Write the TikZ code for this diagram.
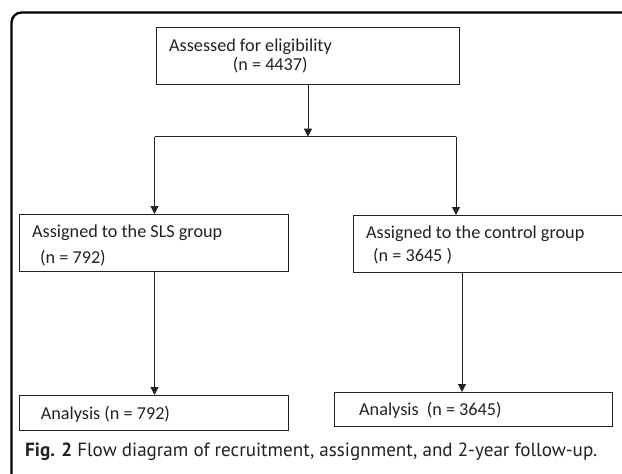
\documentclass[tikz,border=0pt]{standalone}
\usepackage{fontspec}
\setmainfont{Carlito}
\newfontfamily\capfont{PT Sans}
\usetikzlibrary{arrows.meta}
\definecolor{ink}{HTML}{222222}
\tikzset{
  box/.style={draw=ink, line width=1pt, inner sep=0pt, anchor=north west},
  txt/.style={inner sep=0pt, anchor=base west, text=ink, font=\fontsize{18.2}{21}\selectfont},
  conn/.style={draw=ink, line width=1pt},
  arr/.style={conn, -{Triangle[width=8pt,length=8pt]}, shorten >=0pt},
}
\begin{document}
\begin{tikzpicture}[x=1pt,y=-1pt]
\useasboundingbox (0,0) rectangle (622,474);
\clip (0,0) rectangle (622,474);
\fill[white] (0,0) rectangle (622,474);
% outer frame
\draw[line width=2.3pt, rounded corners=10pt] (11.5,490) |- (640,12.5);
% boxes
\node[box, minimum width=303pt, minimum height=57pt] (top) at (156,27) {};
\node[box, minimum width=269pt, minimum height=57pt] (sls) at (19,214) {};
\node[box, minimum width=290pt, minimum height=57pt] (ctl) at (352.7,215) {};
\node[box, minimum width=269pt, minimum height=35pt] (asls) at (19,395) {};
\node[box, minimum width=278pt, minimum height=34pt] (actl) at (334,392) {};
% texts
\node[txt] (t1) at (169,51.7) {Assessed for eligibility};
\node[txt] (t2) at (232.7,70.5) {(n = 4437)};
\node[txt] (s1) at (32,237.3) {Assigned to the SLS group};
\node[txt] (s2) at (40,263) {(n = 792)};
\node[txt] (c1) at (366,238) {Assigned to the control group};
\node[txt] (c2) at (373,261.7) {(n = 3645 )};
\node[txt] (a1) at (40.7,419.3) {Analysis (n = 792)};
\node[txt] (a2) at (359,415.7) {Analysis~ (n = 3645)};
% caption
\node[inner sep=0pt, anchor=base west, text=ink, font=\capfont\fontsize{19.4}{23}\selectfont] (cap) at (25,456)
  {\resizebox{572pt}{!}{\textbf{Fig. 2} Flow diagram of recruitment, assignment, and 2-year follow-up.}};
% connectors
\coordinate (split) at (308,136.7);
\coordinate (jl) at (154.5,136.7);
\coordinate (jr) at (456,136.7);
\draw[arr] (top.south -| split) -- (split);
\draw[conn] (jl) -- (jr);
\draw[arr] (jl) -- (jl |- sls.north);
\draw[arr] (jr) -- (jr |- ctl.north);
\draw[arr] (154.5,271) coordinate (sb) -- (sb |- asls.north);
\draw[arr] (462,272) coordinate (cb) -- (cb |- actl.north);
\end{tikzpicture}
\end{document}
